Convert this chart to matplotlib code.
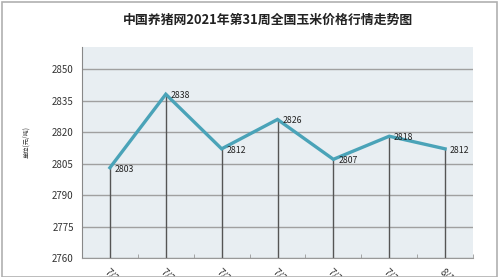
import matplotlib
matplotlib.use("Agg")
import matplotlib.pyplot as plt
from matplotlib.patches import Rectangle

plt.rcParams['font.family'] = ['Noto Sans CJK SC', 'DejaVu Sans']

title = "中国养猪网2021年第31周全国玉米价格行情走势图"
dates = ["7/26", "7/27", "7/28", "7/29", "7/30", "7/31", "8/1"]
prices = [2803, 2838, 2812, 2826, 2807, 2818, 2812]
yticks = [2760, 2775, 2790, 2805, 2820, 2835, 2850]
ylabel = "单位(元/吨)"

W, H = 499, 277
fig = plt.figure(figsize=(W / 100, H / 100), dpi=100)
fig.patch.set_facecolor("white")
fig.add_artist(Rectangle((1.5 / W, 0), (W - 3.5) / W, (H - 2) / H, transform=fig.transFigure,
                         fill=False, edgecolor="#b0b0b0", linewidth=1.2))

ax = fig.add_axes([82 / W, 1 - 258 / H, (473 - 82) / W, (258 - 47) / H])
ax.set_facecolor("#e8eef2")
x = list(range(len(dates)))
ax.set_xlim(-0.5, len(dates) - 0.5)
ax.set_ylim(2760, 2860.5)

for y in yticks:
    ax.axhline(y, color="#a0a0a0", linewidth=1.0, zorder=1)

for xi, p in zip(x, prices):
    ax.plot([xi, xi], [2760, p], color="#555555", linewidth=1.0, zorder=2)

ax.plot(x, prices, color="#4aa3b8", linewidth=2.4, zorder=3, solid_joinstyle="miter")

for xi, p in zip(x, prices):
    ax.annotate(str(p), (xi, p), xytext=(3.5, -1), textcoords="offset points",
                fontsize=6.3, color="#222222", va="center", ha="left", zorder=4)

ax.set_yticks(yticks)
ax.set_yticklabels([str(v) for v in yticks], fontsize=7, color="#333333")
ax.set_xticks(x)
ax.set_xticklabels(dates, rotation=-45, ha="left", va="top", fontsize=7, color="#333333",
                   rotation_mode="anchor")
ax.set_xticks([i + 0.5 for i in range(-1, len(dates))], minor=True)
ax.tick_params(axis="x", which="major", length=0, pad=6)
ax.tick_params(axis="x", which="minor", length=3, direction="in", color="#999999")
ax.tick_params(axis="y", length=0, pad=6)

for s in ["top", "right"]:
    ax.spines[s].set_visible(False)
ax.spines["left"].set_color("#888888")
ax.spines["bottom"].set_color("#999999")

fig.text(268 / W, 1 - 20 / H, title, ha="center", va="center", fontsize=9.3,
         fontweight="bold", color="#222222")
fig.text(26 / W, 1 - 142 / H, ylabel, ha="center", va="center", rotation=90,
         fontsize=4.5, color="#333333")

fig.savefig("out.png", dpi=100, facecolor="white")
